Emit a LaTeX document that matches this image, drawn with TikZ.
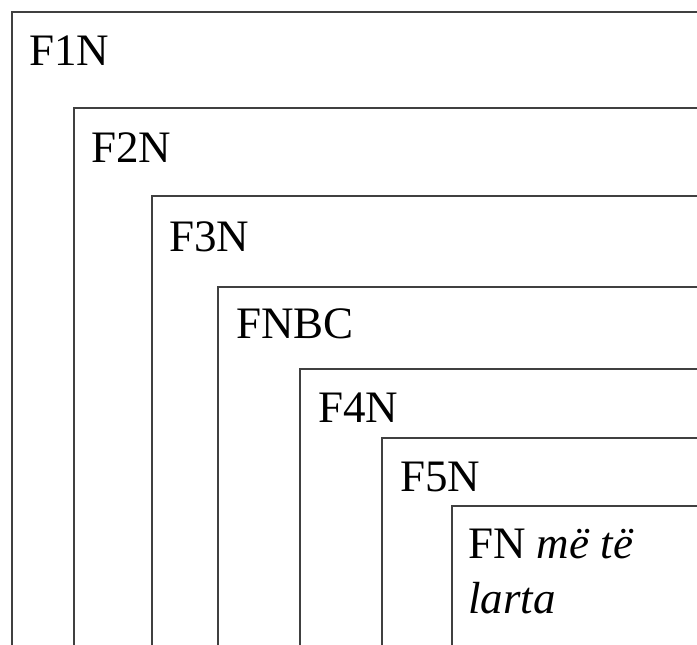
\documentclass[tikz,border=0pt]{standalone}
\usepackage{fontspec}
\setmainfont{Liberation Serif}

\begin{document}
\begin{tikzpicture}[x=1pt, y=-1pt]

\def\width{697}
\def\height{645}

\tikzset{
  frame/.style={line width=1.9pt, draw=black!75},
  label/.style={anchor=base west, inner sep=0pt, font=\fontsize{45}{55}\selectfont},
}

\path [use as bounding box] (0,0) rectangle (\width,\height);
\clip (0,0) rectangle (\width,\height);

% FRAMES
\foreach \x/\y in {12/12, 74/108, 152/196, 218/287, 300/369, 382/438, 452/506}
  \draw [frame] (\x,\y) rectangle (\width+10,\height+10);

% LABELS
\node [label] (f1n) at (29,65) {F1N};
\node [label] (f2n) at (91,162) {F2N};
\node [label] (f3n) at (169,251) {F3N};
\node [label] (fnbc) at (236,338) {FNBC};
\node [label] (f4n) at (318,422) {F4N};
\node [label] (f5n) at (400,491) {F5N};
% base of a two-line node is its last line
\node [label, align=left] (fnlarta) at (468,613) {FN \textit{më të}\\\textit{larta}};

\end{tikzpicture}
\end{document}
